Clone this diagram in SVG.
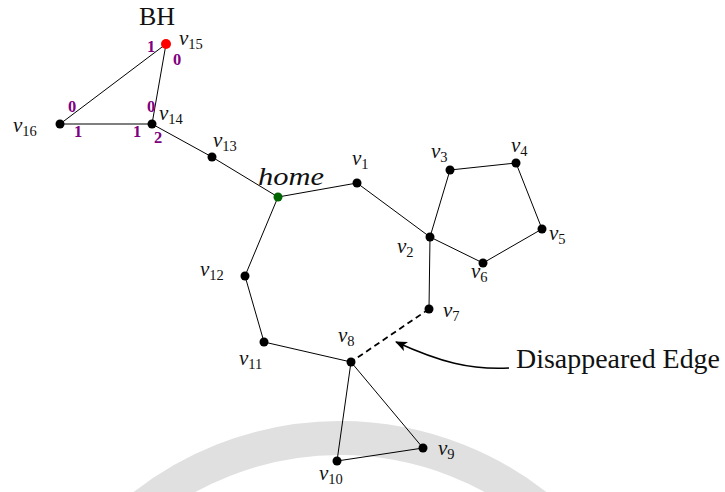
<svg xmlns="http://www.w3.org/2000/svg" width="725" height="492" viewBox="0 0 725 492">
<style>
.e{stroke:#000;stroke-width:1;fill:none}
.d{stroke:#000;stroke-width:1.8;stroke-dasharray:6 4;fill:none}
.n{fill:#000}
.lab{font-family:"Liberation Serif",serif;font-style:italic;font-size:21px;fill:#111}
.sub{font-style:normal;font-size:14.5px}
.pn{font-family:"Liberation Serif",serif;font-weight:bold;font-size:16.5px;fill:#800080;text-anchor:middle}
.big{font-family:"Liberation Serif",serif;font-size:26px;fill:#111}
</style>
<defs>
<marker id="ah" viewBox="0 0 12 10" refX="11" refY="5" markerWidth="12" markerHeight="10" markerUnits="userSpaceOnUse" orient="auto">
<path d="M0,0 L12,5 L0,10 L3,5 Z" fill="#000"/>
</marker>
</defs>
<rect width="725" height="492" fill="#fff"/>
<g id="watermark">
<circle cx="340" cy="756" r="318" fill="none" stroke="#e0e0e0" stroke-width="34"/>
</g>
<g id="connectors">
<line class="e" x1="166" y1="44" x2="60" y2="124"/>
<line class="e" x1="166" y1="44" x2="152" y2="124"/>
<line class="e" x1="60" y1="124" x2="152" y2="124"/>
<line class="e" x1="152" y1="124" x2="212" y2="157"/>
<line class="e" x1="212" y1="157" x2="278" y2="197"/>
<line class="e" x1="278" y1="197" x2="357" y2="183"/>
<line class="e" x1="357" y1="183" x2="430" y2="237"/>
<line class="e" x1="430" y1="237" x2="450" y2="170"/>
<line class="e" x1="450" y1="170" x2="516" y2="163"/>
<line class="e" x1="516" y1="163" x2="542" y2="229"/>
<line class="e" x1="542" y1="229" x2="483" y2="263"/>
<line class="e" x1="483" y1="263" x2="430" y2="237"/>
<line class="e" x1="430" y1="237" x2="429" y2="309"/>
<line class="d" x1="429" y1="309" x2="351" y2="362"/>
<line class="e" x1="278" y1="197" x2="245" y2="276"/>
<line class="e" x1="245" y1="276" x2="264" y2="342"/>
<line class="e" x1="264" y1="342" x2="351" y2="362"/>
<line class="e" x1="351" y1="362" x2="423" y2="448"/>
<line class="e" x1="351" y1="362" x2="337" y2="461"/>
<line class="e" x1="337" y1="461" x2="423" y2="448"/>
<path d="M509,368 C470,370 440,362 396,342" stroke="#000" stroke-width="1.4" fill="none" marker-end="url(#ah)"/>
</g>
<g id="v15"><circle cx="166" cy="44" r="5" fill="#ff0000"/><text class="lab" x="179" y="45">v<tspan class="sub" dy="3.5">15</tspan></text></g>
<g id="v14"><circle class="n" cx="152" cy="124" r="4.5"/><text class="lab" x="159" y="120">v<tspan class="sub" dy="3.5">14</tspan></text></g>
<g id="v16"><circle class="n" cx="60" cy="124" r="4.5"/><text class="lab" x="13" y="132">v<tspan class="sub" dy="3.5">16</tspan></text></g>
<g id="v13"><circle class="n" cx="212" cy="157" r="4.5"/><text class="lab" x="213" y="147">v<tspan class="sub" dy="3.5">13</tspan></text></g>
<g id="home"><circle cx="278" cy="197" r="4.5" fill="#006400"/><text class="lab" x="258" y="185" textLength="66" lengthAdjust="spacingAndGlyphs" style="font-size:26px">home</text></g>
<g id="v1"><circle class="n" cx="357" cy="183" r="4.5"/><text class="lab" x="352" y="165">v<tspan class="sub" dy="3.5">1</tspan></text></g>
<g id="v2"><circle class="n" cx="430" cy="237" r="4.5"/><text class="lab" x="397" y="253">v<tspan class="sub" dy="3.5">2</tspan></text></g>
<g id="v3"><circle class="n" cx="450" cy="170" r="4.5"/><text class="lab" x="431" y="158">v<tspan class="sub" dy="3.5">3</tspan></text></g>
<g id="v4"><circle class="n" cx="516" cy="163" r="4.5"/><text class="lab" x="511" y="152">v<tspan class="sub" dy="3.5">4</tspan></text></g>
<g id="v5"><circle class="n" cx="542" cy="229" r="4.5"/><text class="lab" x="549" y="240">v<tspan class="sub" dy="3.5">5</tspan></text></g>
<g id="v6"><circle class="n" cx="483" cy="263" r="4.5"/><text class="lab" x="471" y="278">v<tspan class="sub" dy="3.5">6</tspan></text></g>
<g id="v7"><circle class="n" cx="429" cy="309" r="4.5"/><text class="lab" x="443" y="317">v<tspan class="sub" dy="3.5">7</tspan></text></g>
<g id="v8"><circle class="n" cx="351" cy="362" r="4.5"/><text class="lab" x="338" y="342">v<tspan class="sub" dy="3.5">8</tspan></text></g>
<g id="v9"><circle class="n" cx="423" cy="448" r="4.5"/><text class="lab" x="438" y="455">v<tspan class="sub" dy="3.5">9</tspan></text></g>
<g id="v10"><circle class="n" cx="337" cy="461" r="4.5"/><text class="lab" x="319" y="480">v<tspan class="sub" dy="3.5">10</tspan></text></g>
<g id="v11"><circle class="n" cx="264" cy="342" r="4.5"/><text class="lab" x="239" y="365">v<tspan class="sub" dy="3.5">11</tspan></text></g>
<g id="v12"><circle class="n" cx="245" cy="276" r="4.5"/><text class="lab" x="200" y="276">v<tspan class="sub" dy="3.5">12</tspan></text></g>
<g id="ports">
<text class="pn" x="151" y="52">1</text>
<text class="pn" x="177" y="65">0</text>
<text class="pn" x="72" y="112">0</text>
<text class="pn" x="151" y="112">0</text>
<text class="pn" x="78" y="137">1</text>
<text class="pn" x="137" y="137">1</text>
<text class="pn" x="158" y="143">2</text>
</g>
<g id="titles">
<text class="big" x="157" y="25" text-anchor="middle">BH</text>
<text class="big" x="516" y="368" textLength="204" lengthAdjust="spacingAndGlyphs" style="font-size:27px">Disappeared Edge</text>
</g>
</svg>
